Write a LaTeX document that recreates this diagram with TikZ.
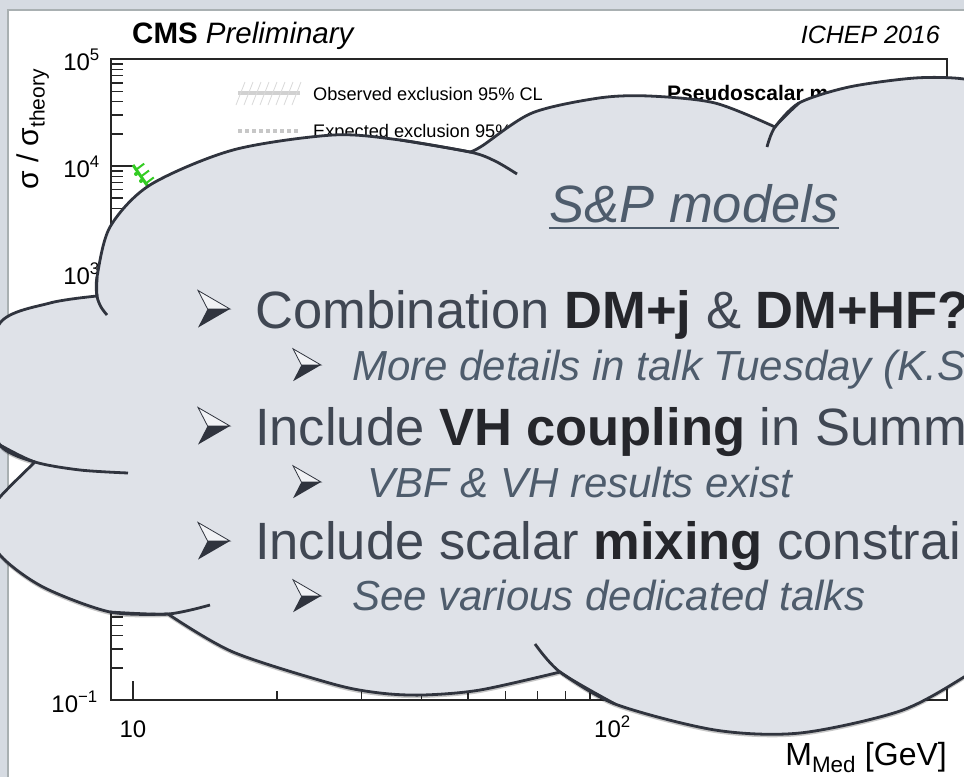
\documentclass[tikz,border=0pt]{standalone}
\usepackage{fontspec}
\setmainfont{Liberation Sans}
\usepackage{xcolor}
\usepackage{tikz}

\definecolor{framebg}{HTML}{D6DBE2}
\definecolor{framegray}{HTML}{A9B0B2}
\definecolor{cloudfill}{HTML}{DFE2E8}
\definecolor{cloudline}{HTML}{30343E}
\definecolor{slidetxt}{HTML}{404753}
\definecolor{boldtxt}{HTML}{25262B}
\definecolor{subtxt}{HTML}{4E5C6C}
\definecolor{cmsgreen}{HTML}{33CC22}

\newcommand{\keyword}[1]{\textbf{\color{boldtxt}#1}}

\tikzset{
  arrowbul/.pic={
    \filldraw[fill=white!55!cloudfill, draw=cloudline, line width=0.8pt]
      (0,-0.58) -- (1,0) -- (0.3,0) -- cycle;
    \fill[cloudline] (0.3,0) -- (1,0) -- (0,0.58) -- cycle;
  }
}

\begin{document}
\begin{tikzpicture}[x=1pt,y=-1pt,
    axisline/.style={line width=1.4pt,black!85},
    ticklab/.style={inner sep=0,font=\fontsize{24}{28}\selectfont},
    legtxt/.style={inner sep=0,anchor=base west,font=\fontsize{18.2}{22}\selectfont},
    cloudedge/.style={line width=2.8pt,draw=cloudline,line join=round},
    bigline/.style={inner sep=0,anchor=base west,text=slidetxt,font=\fontsize{52.5}{63}\selectfont},
    subline/.style={inner sep=0,anchor=base west,text=subtxt,font=\fontsize{42}{50}\selectfont\itshape}]

    \useasboundingbox (0,0) rectangle (964,777);
    \clip (0,0) rectangle (964,777);

    % slide frame and plot canvas
    \fill[framebg] (0,0) rectangle (964,777);
    \fill[white] (8,10) rectangle (964,777);
    \draw[framegray,line width=1.2pt] (8,777) -- (8,10) -- (964,10);

    \node[inner sep=0,anchor=base west,font=\fontsize{29.5}{34}\selectfont] (cms) at (132,43)
        {\textbf{CMS} \textit{Preliminary}};
    \node[inner sep=0,anchor=base east,font=\fontsize{25}{30}\selectfont\itshape] (conf) at (940,43)
        {ICHEP 2016};

    % axes
    \draw[axisline] (111,59) rectangle (947,700);
    \foreach \d in {0,...,6}
        \draw[axisline] (111,{700-106.8*\d}) -- ++(22,0);
    \foreach \d in {0,...,5}
        \foreach \k in {2,...,9}
            \draw[axisline] (111,{700-106.8*(\d+log10(\k))}) -- ++(12,0);
    \foreach \v in {10,100}
        \draw[axisline] ({133+479*log10(\v/10)},700) -- ++(0,-19);
    \foreach \v in {20,30,40,50,60,70,80,90,200,300,400}
        \draw[axisline] ({133+479*log10(\v/10)},700) -- ++(0,-9);

    \node[ticklab,anchor=base east] (y5) at (100,70) {10\textsuperscript{5}};
    \node[ticklab,anchor=base east] (y4) at (100,177) {10\textsuperscript{4}};
    \node[ticklab,anchor=base east] (y3) at (100,284) {10\textsuperscript{3}};
    \node[ticklab,anchor=base east] (ym1) at (98,712) {10\textsuperscript{−1}};
    \node[ticklab,anchor=base] (x1) at (133,737) {10};
    \node[ticklab,anchor=base west] (x2) at (594,737) {10\textsuperscript{2}};

    \node[inner sep=0,anchor=base west,rotate=90,font=\fontsize{30}{34}\selectfont] (ytitle) at (38,190)
        {σ / σ\textsubscript{theory}};
    \node[inner sep=0,anchor=base east,font=\fontsize{32}{36}\selectfont] (xtitle) at (947,765)
        {M\textsubscript{Med} [GeV]};

    % legend
    \draw[black!18,line width=4pt] (238,93) -- (300,93);
    \foreach \x in {236,244,...,292}
        \draw[black!15,line width=0.8pt] (\x,105) -- ++(9,-23);
    \draw[black!22,line width=4pt,dash pattern=on 4pt off 3pt] (238,131) -- (300,131);
    \node[legtxt] (obs) at (313,100) {Observed exclusion 95\% CL};
    \node[legtxt] (exp) at (313,137) {Expected exclusion 95\% CL};
    \node[legtxt,font=\fontsize{21}{24}\selectfont\bfseries] (model) at (667,100) {Pseudoscalar m};

    % observed limit
    \draw[cmsgreen,line width=3pt] (133,165) -- (149,188);
    \foreach \s in {0.2,0.5,0.8}
        \draw[cmsgreen,line width=2pt] ({133+16*\s},{165+23*\s}) -- ++(8,-6);
    \fill[cmsgreen] (136,174) circle (2) (141,181) circle (2);

    % cloud
    \filldraw[fill=cloudfill,cloudedge,
        preaction={fill=black,opacity=0.22,transform canvas={yshift=-3pt}}]
        plot[smooth] coordinates {(35,462) (0,445) (-14,390) (0,323) (50,303) (97,296)}
        -- plot[smooth] coordinates {(97,296) (97,277) (110,227) (150,185) (233,150) (333,135) (400,140) (470,152)}
        -- plot[smooth] coordinates {(470,152) (482,146) (532,113) (599,98) (649,96) (715,103) (775,127)}
        -- plot[smooth] coordinates {(775,127) (799,103) (849,87) (915,78) (964,79) (1000,90)}
        -- (1000,650)
        -- plot[smooth] coordinates {(1000,650) (964,677) (900,711) (800,733) (715,730) (615,704) (560,672)}
        -- plot[smooth] coordinates {(560,672) (480,690) (423,695) (380,693) (333,684) (233,652) (168,614)}
        -- plot[smooth] coordinates {(168,614) (110,612) (43,587) (0,555) (-14,520) (0,497) (35,462)}
        -- cycle;
    \draw[cloudedge] plot[smooth] coordinates {(97,277) (97,296) (101,307) (107,315)};
    \draw[cloudedge] plot[smooth] coordinates {(400,140) (470,152) (495,161) (517,174)};
    \draw[cloudedge] plot[smooth] coordinates {(799,103) (775,127) (767,147)};
    \draw[cloudedge] plot[smooth] coordinates {(615,704) (560,672) (535,644)};
    \draw[cloudedge] plot[smooth] coordinates {(110,612) (168,614) (210,605)};
    \draw[cloudedge] plot[smooth] coordinates {(0,445) (35,462) (80,470) (128,473)};

    % cloud text
    \node[inner sep=0,anchor=base,text=subtxt,font=\fontsize{52.5}{63}\selectfont\itshape] (title) at (694,222)
        {S\&P models};
    \draw[subtxt,line width=2.6pt] ([yshift=-6pt]title.base west) -- ([yshift=-6pt]title.base east);

    \node[bigline] (comb) at (255,328) {Combination \keyword{DM+j} \& \keyword{DM+HF?}};
    \node[subline] (talk) at (352,380) {More details in talk Tuesday (K.S};
    \node[bigline] (vh) at (255,445) {Include \keyword{VH coupling} in Summ};
    \node[subline] (vbf) at (367,497) {VBF \& VH results exist};
    \node[bigline] (mix) at (255,559) {Include scalar \keyword{mixing} constrai};
    \node[subline] (see) at (352,610) {See various dedicated talks};

    \foreach \y in {309,426,541}
        \pic[scale=32] at (198,\y) {arrowbul};
    \foreach \y in {365,482,596}
        \pic[scale=28] at (293,\y) {arrowbul};
\end{tikzpicture}
\end{document}
